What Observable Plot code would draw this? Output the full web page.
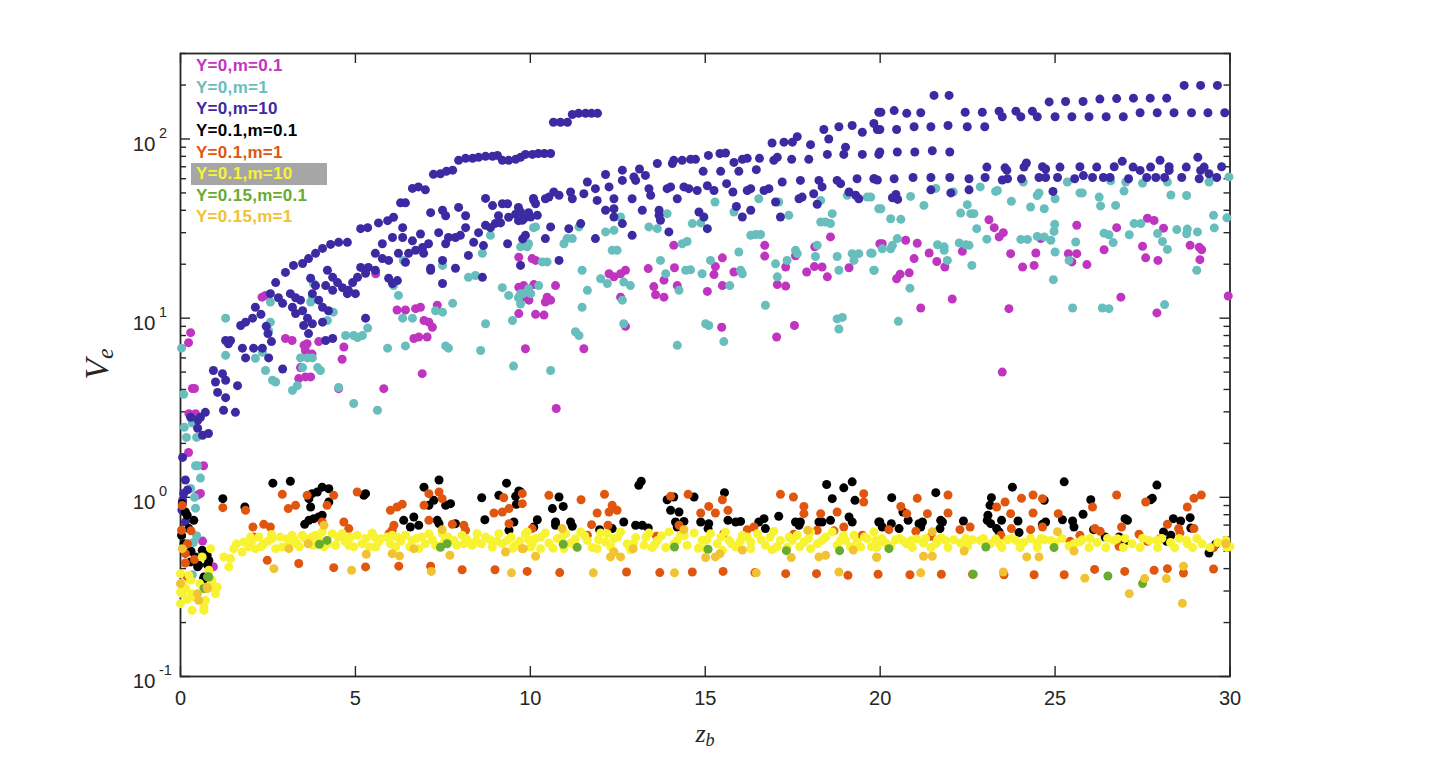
<!DOCTYPE html>
<html><head><meta charset="utf-8">
<script src="https://cdn.jsdelivr.net/npm/d3@7"></script>
<script src="https://cdn.jsdelivr.net/npm/@observablehq/plot@0.6"></script>
<style>
html,body{margin:0;padding:0;background:#fff;}
#wrap{position:relative;width:1440px;height:769px;overflow:hidden;background:#fff;font-family:"Liberation Sans",Arial,Helvetica,sans-serif;}
#wrap svg{position:absolute;left:0;top:0;}
#legend{position:absolute;left:190.7px;top:55.2px;font-weight:bold;font-size:17px;letter-spacing:0.3px;line-height:21.6px;}
#legend div{padding-left:5.3px;width:131.3px;height:21.6px;white-space:nowrap;}
</style></head>
<body><div id="wrap">
<div id="legend"></div>
</div>
<script>
const seriesNames = ["Y=0,m=0.1","Y=0,m=1","Y=0,m=10","Y=0.1,m=0.1","Y=0.1,m=1","Y=0.1,m=10","Y=0.15,m=0.1","Y=0.15,m=1"];
const seriesColors = ["#bf35bf","#68bdbd","#3c2aa3","#000000","#e1560f","#f8f332","#67ab30","#f1c232"];
const highlighted = "Y=0.1,m=10";

const xTicks = [0,5,10,15,20,25,30];
const yMajor = [0.1,1,10,100];
const yExp = ["-1","0","1","2"];
const yMinor = [0.2,0.3,0.4,0.5,0.6,0.7,0.8,0.9,2,3,4,5,6,7,8,9,20,30,40,50,60,70,80,90,200,300];
const xLabel = ["z","b"];
const yLabel = ["V","e"];

const magenta = [
[0.29,8.3],[0.23,7.3],[0.34,4.05],[0.4,4.05],[0.23,1.78],[0.49,1.03],[0.66,1.5],[0.57,1.05],[0.63,0.57],[0.94,0.41],[0.24,2.93],[0.43,2.93],
[2.33,13.1],[2.43,13.4],[3.0,7.7],[3.19,7.5],[3.53,7.05],[3.62,7.2],[3.95,7.4],[3.57,6.6],[3.76,6.3],[3.43,5.3],[3.38,4.6],[3.57,4.7],[3.72,4.7],[4.62,5.9],[4.67,6.9],[4.52,4.04],[5.81,4.04],[6.19,11.1],[6.43,11.1],[6.72,11.3],[6.86,11.5],[6.96,9.7],[7.1,9.5],[7.2,8.9],[7.05,7.85],[6.67,7.7],[6.81,7.85],[6.91,4.9],[7.34,11.8],[9.67,14.9],[9.81,15.2],[9.86,6.75],[9.67,10.6],[10.05,21.5],[10.15,21],[9.67,21.9],[5.58,17.7],[9.8,13.1],[9.96,12.6],
[10.1,15.4],[10.15,10.5],[10.39,10.4],[10.48,13.1],[10.43,12.3],[10.58,12.6],[10.72,15.2],[10.74,3.13],[11.53,6.75],[12.25,17.7],[12.39,17],[12.58,17.7],[12.72,18.5],[12.58,13.1],[12.72,9.0],[13.37,18.9],[13.53,15],[13.58,13.5],[13.82,16.3],[13.82,13.1],[14.1,25.5],[14.12,19.1],[14.2,15.2],[15.06,14.1],[15.29,19.4],[15.25,17.5],[15.49,21.7],[15.49,15.2],[15.47,8.9],[15.82,18.1],[16.7,25.5],[16.7,22.2],[17.04,7.85],[17.3,19.3],[17.06,15.4],[17.3,15.1],[17.55,9.1],[17.58,22.3],[17.9,18.1],[18.13,25],[18.12,19.4],[18.34,19.3],[18.49,17],[18.58,28.4],[19.11,19.1],[19.99,26],
[20.06,26],[20.73,27.2],[21.06,26.2],[20.47,16.6],[20.57,17.6],[20.83,17.9],[20.97,21.5],[21.16,11.4],[21.4,23.1],[21.62,20.7],[21.85,19.3],[22.06,12.8],[22.35,23.6],[23.11,35.4],[23.26,32],[23.4,28.4],[23.52,30],[23.73,22.9],[23.68,11.3],[23.49,5.0],[24.07,19.3],[24.4,19.7],[24.45,23.1],[24.59,27.8],[25.38,22.9],[25.48,20.6],[25.62,22.9],[25.62,33],[25.91,19.9],[26.4,24.1],[26.76,32],[26.88,13.1],[27.5,25.2],[27.59,21.7],[27.64,36.1],[27.83,35.1],[27.94,21],[28.1,31.8],[27.91,10.7],[28.86,25.5],[29.12,24.9],[29.19,24.1],[29.14,21.2],[29.95,13.3]
];

const teal = [
[0.03,6.8],[0.09,3.76],[0.11,2.46],[0.17,2.16],[0.46,2.16],[0.43,1.5],[0.34,2.6],[0.29,1.12],[0.43,0.87],[0.4,1.0],[0.49,1.5],[0.57,1.28],[0.46,0.61],[0.37,0.56],[0.34,0.37],
[1.29,10],[1.29,6.2],[2.14,5.97],[2.34,6.45],[2.43,5.1],[2.63,4.5],[2.72,4.4],[3.2,3.95],[3.34,4.2],[2.57,9.5],[2.57,12.3],[2.52,8.5],[3.43,6.0],[3.63,6.0],[3.77,6.0],[3.49,5.3],[3.92,5.3],[4.0,5.1],[3.72,12.3],[3.8,15.6],[3.77,13],[4.2,9.7],[4.37,10.8],[4.52,4.1],[4.72,8.0],[4.95,8.0],[5.06,7.8],[5.2,8.0],[5.35,8.8],[4.95,3.34],[5.63,3.06],[5.92,6.8],[6.43,7.0],[6.63,10],[6.35,10],[6.23,13.4],[6.09,15.2],[6.37,21],[7.29,11.0],[7.49,10.8],[7.78,12.1],[7.58,7.0],[7.66,6.8],[7.49,19.7],[8.23,16.9],[8.43,17.3],[8.58,6.6],[8.72,9.3],[9.52,5.4],[9.49,9.7],[9.2,14.8],[9.38,13.4],[9.66,13],[9.8,13.7],[9.95,14.6],[9.78,25.4],[9.95,26],[8.63,23],[8.86,29],[10.09,32],
[10.15,32.3],[10.96,26],[11.05,27.8],[11.2,27.8],[11.39,32.3],[9.91,25],[9.72,25],[10.34,20.6],[10.48,20.6],[9.72,13.7],[10.01,13.7],[10.24,15.2],[9.72,12],[11.48,18.5],[11.63,14.3],[11.48,11.5],[11.29,8.4],[11.39,8.0],[10.58,5.1],[12.01,16.6],[12.2,15.6],[12.15,30.3],[12.39,30.9],[12.34,23.9],[12.48,23.9],[12.58,36.7],[12.67,15.9],[12.86,15.2],[12.63,12.6],[12.67,9.3],[13.39,32.3],[13.63,31.6],[13.72,21],[13.87,17.7],[13.91,38.3],[14.25,14.3],[14.2,7.05],[14.34,26],[14.48,26.8],[14.44,18.5],[14.58,18.6],[14.63,33.7],[14.87,34],[14.91,17.7],[15.01,9.3],[15.1,9.1],[15.15,21],[15.28,44.5],[15.53,7.4],[15.7,15.2],[15.82,39.1],[15.96,23.4],[16.01,18.5],[16.06,17.7],[16.3,29],[16.44,29.3],[16.58,29.3],[16.53,46.4],[16.72,11.8],[17.01,20.1],[17.06,17],[17.1,44.5],[17.34,21],[17.39,37.5],[17.58,23.9],[17.63,22.9],[18.3,34.4],[18.44,34.4],[18.58,33.7],[18.63,38.3],[18.15,22.1],[18.2,25.5],[18.3,45.4],[18.77,22.1],[18.82,18.5],[18.77,9.9],[18.92,10.1],[18.82,8.7],[19.2,22.9],[19.25,21],[19.39,22.9],[19.63,47.4],[19.77,23],[19.82,18.5],[19.06,48.5],[19.96,40.8],
[19.73,47.4],[20.02,40.8],[20.3,35.9],[20.59,35.6],[20.87,47.8],[21.25,42.6],[19.73,23.1],[19.83,18.5],[20.06,24.4],[20.3,24.4],[20.35,25.5],[20.49,27.8],[20.85,14.7],[20.52,9.6],[21.59,53],[21.64,25.7],[21.83,25],[21.83,23.9],[21.92,21],[22.09,50.6],[22.3,38.6],[22.49,43],[22.59,38.3],[22.68,38.3],[22.26,26.3],[22.45,25.7],[22.54,25.5],[22.62,19.7],[22.76,31.6],[22.86,54],[23.05,27.6],[23.3,51],[23.35,51.6],[23.75,44.9],[24.02,27.5],[24.21,27.5],[24.3,41.7],[24.09,57.5],[24.49,48.4],[24.54,50],[24.69,40.8],[24.49,28.6],[24.69,28.4],[24.88,27.2],[24.97,30.5],[24.99,33.4],[25.0,23.4],[24.95,16.4],[25.0,46.4],[25.35,57.5],[25.4,21],[25.5,11.4],[25.59,26.6],[25.71,50],[25.78,50],[26.26,47.4],[26.3,42.3],[26.35,11.4],[26.4,29.8],[26.54,29.2],[26.54,11.3],[26.66,26.4],[26.73,42.6],[26.97,51.2],[27.02,57.5],[27.12,29.2],[27.26,33.7],[27.45,33.7],[27.5,56.7],[27.93,29.7],[28.07,26.8],[28.21,24.2],[28.13,11.9],[28.21,57.5],[28.31,48.7],[28.48,31.2],[28.76,48.4],[28.76,29.6],[28.78,31.4],[29.05,18.5],[29.07,30.3],[29.4,57.5],[29.53,37.5],[29.55,31.9],[29.91,36.3],[29.97,61.4],[26.59,58.5]
];

const blue = [
[0.06,1.67],[0.14,1.25],[0.09,1.05],[0.06,0.96],[0.14,0.73],[0.29,2.8],[0.5,2.7],[0.2,1.1],[0.04,0.85],
[0.49,2.43],[0.57,2.8],[0.63,2.22],[0.71,2.98],[0.8,2.27],
[0.94,5.1],[1.0,4.4],[1.06,3.85],[1.2,4.9],[1.29,4.5],[1.29,3.6],[1.63,4.2],[1.23,3.06],[1.57,2.98],
[1.29,7.5],[1.37,7.2],[1.43,7.5],
[1.72,9.1],[1.86,9.5],[2.06,10],[1.77,6.8],[1.86,6.0],[2.09,6.8],[2.34,6.8],[2.52,6.0],
[2.14,11.5],[2.3,10.5],[2.45,9.0],[2.6,7.4],[2.5,8.2],
[2.57,13.7],[2.8,13.0],[2.92,12.1],[2.92,5.2],
[2.72,15.8],[3.0,18],[3.23,19.7],[3.49,20.2],[3.66,21.5],[3.86,23],[4.06,24.5],[4.29,25.8],[4.52,26.5],[4.77,26.5],
[3.2,11.5],[3.29,10.6],[3.49,11.0],[3.63,10.0],[3.77,9.3],[3.52,9.1],
[3.14,13.7],[3.29,13.0],[3.43,12.6],
[3.72,16.7],[3.86,15.2],[3.77,13.7],[3.95,12.6],[4.06,11.5],
[4.2,18.5],[4.35,16.9],[4.49,15.8],[4.63,14.8],[4.77,13.7],[4.35,14.3],[4.15,15.2],
[4.92,15.8],[5.06,16.9],[5.15,19.2],[5.29,17.8],[5.0,13.7],[4.8,14.3],
[4.23,11.0],[4.35,7.7],[4.15,7.5],[3.66,8.2],[4.06,9.5],[5.29,10.0],
[5.57,18.5],[5.95,16.7],[6.2,16.2],[6.06,15.6],[5.37,19.2],
[5.57,23],[5.77,21.5],[5.95,21],[6.23,23],[6.43,20.5],[6.52,23],[6.72,23.9],[6.95,23],[7.15,19.0],
[5.77,26],[6.06,28.2],[6.35,32],[6.35,28.2],[6.63,27],[6.92,24.8],[7.09,26],
[5.15,31.6],[5.35,32],[5.66,34],[5.92,35],[6.09,36.6],[6.29,44],[6.43,44],
[6.63,53],[6.8,54],[7.0,52],[7.23,63.5],[7.43,64],[7.6,66],[7.78,67],
[6.86,29.5],[7.15,38.8],[7.49,40],[7.58,37.3],[7.95,41.5],
[8.15,37.3],[8.72,46.6],[8.92,42.5],[9.2,43.5],[9.35,43.5],[9.09,37.3],[9.38,36.6],[9.66,41.5],[9.95,38.8],[10.09,46.6],
[7.38,30],[7.66,28.2],[8.0,29],[8.15,32],[8.52,30],[8.72,33],[8.86,32],[9.0,33.8],[9.15,34],
[7.58,26],[7.86,28.2],[8.23,22.4],[8.38,26.5],[8.66,25.4],[9.35,26],[9.78,27.7],
[7.49,15.6],[7.15,18.5],[7.86,19],[8.63,16.9],[7.49,21],
[9.66,35],[9.58,38],
[7.95,76],[8.15,78],[8.35,78],[8.52,79],[8.72,80],[8.92,80],[9.06,81],[9.2,76],[9.38,76],[9.58,77],
[9.72,79],[9.86,82],[10.06,82],[10.23,83],[10.4,83],[10.58,83],
[10.66,124],[10.86,124],[11.06,124],
[11.2,137],[11.38,139],[11.58,139],[11.75,139],[11.92,139],
[9.72,39.1],[9.82,36],[10.1,45.4],[10.15,43.5],[10.43,46.4],[10.53,47.4],[10.67,50.6],[10.82,48.5],[11.15,50.6],[11.2,46.4],[11.53,49.5],[11.63,57.5],[11.86,52.8],[11.91,45.4],[12.15,63.4],[12.25,54],[12.39,46.4],[12.63,67],[12.63,58.7],[12.91,46.4],[12.96,61.4],[13.01,58.7],[13.12,68],[13.29,62.6],[13.39,52.8],[13.44,48.5],[13.63,73],[13.91,52.8],[14.01,54],[14.06,73],[14.1,76],[14.34,76],[14.39,54],[14.53,52.8],[14.58,77],[14.72,77],[14.77,51.6],[14.94,66],[15.06,54.8],[15.09,81],[15.25,51.6],[15.42,83],[15.44,66],[15.58,83.5],[15.61,56.3],[15.79,50.6],[15.82,74],[15.96,66],[16.06,77],[16.2,78],[16.2,51.6],[16.3,52.8],[16.46,67.4],[16.55,78],[16.68,51.6],[16.82,52.8],[16.96,76],[17.06,79],[16.91,95],[17.2,57.5],[17.25,96],[17.49,96],[17.47,77],[17.63,103],[17.72,58.7],[17.96,77],[18.01,93],[18.25,58.7],[18.34,54],[18.39,113],[18.49,82],[18.53,100],[18.82,117],[18.77,58.7],[18.87,56.3],[18.96,82],[19.01,90],[19.2,119],[19.11,50.6],[19.3,48.5],[19.34,60],[19.39,46.4],[19.49,109],[19.49,82],[19.82,122],[19.82,60],[19.92,113],[19.96,141],[19.96,82],
[9.86,29],[10.43,27.8],[10.82,21],[9.72,19.7],[10.58,32.3],[11.1,31.6],[11.44,33.7],[11.86,27.8],[12.15,40],[12.39,40.8],[12.39,36.7],[12.63,33.7],[12.91,29],[13.2,40],[13.68,40],[13.72,35.2],[13.68,37.5],[13.96,30.3],[14.2,46.4],[14.82,39.1],[14.96,36.7],[15.06,31.6],[15.89,42],[16.06,36.7],[16.3,40],[17.01,44.5],[17.15,36.7],[17.68,46.4],[17.77,47.4],[18.1,49.5],[18.2,43.2],[9.77,35.2],[10.01,36.7],[10.2,37.5],
[28.69,199],[29.16,199],[29.64,199],
[24.83,161],[25.3,162],[25.8,162],[26.28,167],[26.76,168],[27.24,169],[27.72,169],[28.19,169],
[21.54,175],[21.97,175],
[20.02,141],[20.4,144],[20.76,139],[21.16,140],[22.43,141],[22.92,141],[23.4,143],[23.88,143],[24.35,143],
[23.49,133],[24.02,133],[24.49,133],[25.0,133],[25.48,133],[25.97,133],[26.46,133],[26.95,133],
[27.43,140],[27.92,140],[28.4,140],[28.9,140],[29.37,140],[29.85,140],
[19.99,113],[20.47,113],[20.97,117],[21.45,117],[21.94,119],[22.49,117],[22.99,117],
[19.99,84.6],[20.49,84.6],[20.99,84.6],[21.49,86],[21.99,84.6],
[23.05,69.7],[23.57,69],[24.11,69.7],[24.64,70],[25.14,69.7],[25.71,70],[26.19,69.7],[26.69,70],[27.23,69.7],[27.73,69.7],[28.26,70],[28.75,69.7],[29.26,69.7],[29.76,70],
[24.18,73.5],[23.62,67],[24.73,68],[26.92,75],[27.43,66.8],[28.0,76],[28.26,66.8],[29.08,79],[29.16,66.8],[29.4,64],
[19.83,60],[19.92,59],[20.4,60],[20.94,61],[21.45,61],[21.99,61],[22.54,60],[23.0,61],[23.49,59],[23.64,60],[24.04,60],[24.54,61],[24.73,61],[25.07,61],[25.56,60],[25.81,62.5],[26.07,61],[26.38,61],[26.57,61],[27.1,60],[27.62,61],[27.88,61],[28.13,61],[28.62,61],[29.12,60],[29.62,61],
[20.35,47],[20.45,49],[21.45,52],[22.02,50],[22.54,52],[24.94,51],[20.5,46]
];

const black = [
[0.05,0.922],[0.14,0.828],[0.19,0.794],[0.38,0.744],[0.24,0.669],[0.03,0.614],[0.62,0.506],[0.76,0.475],[0.81,0.445],[0.29,0.436],[0.52,0.418],[0.43,0.465],[0.67,0.359],[0.49,0.41],[0.77,0.42],[0.66,0.35],[0.3,0.5],[0.1,0.55],
[2.64,1.20],[3.14,1.23],[1.21,0.983],[1.84,0.883],[3.55,0.707],[3.67,0.744],[3.81,0.76],[3.95,0.777],[4.05,0.794],[3.67,0.983],[3.76,1.048],[3.91,1.071],[4.05,1.14],[4.24,1.117],[4.24,0.942],[3.72,0.883],[6.96,1.14],[7.39,1.25],[7.24,0.962],[7.1,0.902],[7.58,0.902],[7.72,0.922],[6.38,0.744],[6.57,0.683],[6.67,0.777],[6.81,0.698],[7.34,0.744],[7.39,0.713],[7.86,0.713],[8.61,0.995],[8.7,0.75],[9.1,1.026],[9.32,1.20],[9.67,1.085],[9.6,0.914],[9.53,0.728],[9.39,0.655],[9.58,1.013],[5.24,1.026],[5.29,1.048],[10.1,0.683],
[9.72,1.071],[10.2,0.75],[10.63,0.865],[10.82,1.004],[10.94,0.89],[10.72,0.728],[10.72,0.698],[11.15,0.728],[11.2,0.69],[11.98,0.66],[12.34,0.669],[12.67,0.728],[13.01,0.698],[13.2,0.698],[13.37,0.674],[13.1,1.167],[13.17,1.23],[13.91,0.97],[14.1,1.004],[14.68,1.004],[14.01,0.846],[14.25,0.828],[14.15,0.728],[14.2,0.683],[14.39,0.734],[14.87,0.728],[15.1,0.713],[15.08,0.669],[15.55,1.062],[15.65,0.744],[15.87,0.728],[16.01,0.734],[16.53,0.728],[16.68,0.76],[16.72,0.669],[17.1,0.784],[17.58,0.728],[17.68,0.698],[17.72,0.728],[18.25,0.728],[18.34,0.728],[18.58,0.744],[18.47,1.18],[18.63,0.983],[18.96,1.13],[19.2,1.22],[19.28,0.962],[19.11,0.777],[19.2,0.728],[19.96,0.728],
[19.99,0.728],[20.06,0.683],[20.32,0.713],[20.54,0.669],[20.33,0.996],[20.65,0.828],[20.8,0.744],[21.11,0.713],[21.21,0.728],[21.16,0.683],[21.59,1.062],[21.73,0.744],[21.78,0.728],[21.71,0.669],[22.38,0.738],[23.18,0.996],[23.14,0.902],[23.08,0.794],[23.06,0.744],[23.16,0.713],[23.33,0.669],[23.47,0.744],[23.4,0.641],[23.78,1.14],[23.94,0.738],[23.97,0.636],[24.69,0.962],[24.73,0.728],[24.64,0.707],[25.21,0.75],[25.26,1.22],[25.5,0.738],[25.54,0.683],[25.8,0.804],[26.02,0.97],[26.1,0.66],[26.43,0.601],[26.83,0.601],[27.0,0.76],[27.07,0.744],[26.99,0.568],[27.73,0.97],[27.78,0.987],[27.91,1.17],[28.1,0.641],[28.19,0.568],[28.31,0.614],[28.38,0.76],[28.59,0.738],[28.86,0.77],[28.88,0.674],[29.4,0.489],[29.59,0.547]
];

const orange = [
[0.03,0.655],[0.14,0.485],[0.19,0.359],[0.14,0.43],[0.05,0.9],[0.3,0.65],[0.4,0.45],[0.2,0.55],
[1.21,0.876],[1.86,0.846],[2.91,1.039],[3.08,0.865],[3.29,0.902],[3.62,1.026],[4.38,1.026],[4.19,0.902],[5.05,1.071],[2.07,0.683],[2.1,0.601],[2.38,0.707],[2.57,0.683],[2.48,0.445],[3.38,0.427],[4.05,0.728],[4.67,0.728],[4.81,0.669],[6.0,0.846],[6.19,0.883],[6.34,0.914],[6.1,0.698],[6.05,0.655],[5.96,0.627],[7.1,1.048],[7.39,1.071],[7.48,0.983],[6.96,0.902],[7.1,0.744],[7.77,0.707],[8.1,0.698],[8.15,0.655],[8.96,0.818],[9.2,0.828],[9.39,0.865],[9.24,0.995],[9.77,1.048],[9.39,0.713],[10.05,0.669],[4.38,0.405],[5.29,0.409],[6.24,0.413],[7.15,0.413],[8.05,0.394],[8.99,0.394],[9.91,0.386],
[9.77,0.922],[10.53,1.026],[11.45,0.97],[12.12,1.039],[11.91,0.818],[12.25,0.828],[12.34,0.902],[12.48,0.846],[11.75,0.704],[11.63,0.614],[12.22,0.698],[14.01,1.013],[14.51,1.039],[14.87,0.818],[15.1,0.89],[15.29,0.818],[15.49,0.97],[15.65,0.846],[15.53,0.627],[16.2,0.66],[16.39,0.683],[17.15,1.039],[17.52,1.004],[17.82,0.89],[17.82,0.811],[18.3,0.811],[18.2,0.655],[18.77,0.828],[18.68,0.65],[18.96,0.683],[19.53,1.048],[19.53,0.942],[19.49,0.614],[10.84,0.38],[12.75,0.383],[13.7,0.38],[14.63,0.383],[15.51,0.386],[16.42,0.38],[17.3,0.375],[18.18,0.375],[19.08,0.367],[19.94,0.372],[13.61,0.606],[14.25,0.698],[17.53,0.622],
[20.25,0.66],[20.59,0.89],[20.76,0.811],[21.02,0.646],[21.06,0.987],[21.35,0.811],[21.46,0.606],[21.94,1.03],[21.94,0.818],[22.28,0.66],[22.57,0.683],[23.33,0.883],[23.45,0.614],[23.57,0.942],[23.73,0.811],[23.75,0.669],[24.04,0.987],[24.3,0.66],[24.37,1.03],[24.37,0.818],[24.64,0.983],[24.64,0.683],[25.09,0.811],[25.43,0.568],[25.71,0.614],[26.07,0.883],[26.14,0.669],[26.29,0.646],[26.76,1.03],[26.9,0.683],[27.4,0.622],[27.59,0.942],[27.64,0.568],[28.0,0.588],[28.21,0.707],[28.53,0.669],[28.57,0.633],[28.78,0.883],[28.97,0.987],[29.18,1.03],[29.53,0.524],[20.85,0.37],[21.75,0.372],[22.64,0.372],[23.54,0.37],[24.4,0.37],[25.26,0.37],[26.13,0.396],[26.99,0.386],[27.83,0.392],[28.21,0.40],[28.67,0.378],[29.53,0.398],[26.83,0.533],[28.97,0.669]
];

const yellow = [
[0.0,0.375],[0.05,0.33],[0.05,0.29],[0.0,0.255],[0.29,0.344],[0.33,0.29],[0.33,0.234],[0.67,0.244],[0.71,0.266],[0.9,0.344],[1.0,0.29],[1.05,0.316],[0.24,0.367],[0.62,0.465],[0.86,0.517],[0.81,0.392],[0.38,0.278],[0.67,0.234],[0.0,0.296],[0.9,0.316],[0.15,0.31],[0.55,0.33],[0.2,0.27],
[1.24,0.465],[1.38,0.409],[1.43,0.455],[1.52,0.517],[1.76,0.495],[1.81,0.563],[2.05,0.575],[2.24,0.601],[2.14,0.517],[2.38,0.551],[2.62,0.588],[2.72,0.517],[2.91,0.528],[3.05,0.588],[3.19,0.614],[3.33,0.551],[3.48,0.614],[3.67,0.563],[3.86,0.614],[4.05,0.641],[4.34,0.627],[4.43,0.54],[4.62,0.627],[4.81,0.54],[5.05,0.614],[5.19,0.551],[5.48,0.633],[5.58,0.528],[5.72,0.588],[6.05,0.614],[6.15,0.528],[6.43,0.614],[6.62,0.575],[6.81,0.517],[7.1,0.627],[7.29,0.54],[7.48,0.627],[7.81,0.575],[8.05,0.614],[8.34,0.54],[8.48,0.627],[8.72,0.601],[8.91,0.528],[9.1,0.627],[9.34,0.575],[9.58,0.54],[9.86,0.627],[10.05,0.551],
[2.3,0.53],[2.5,0.57],[2.85,0.6],[3.1,0.55],[3.4,0.53],[3.55,0.59],[3.8,0.54],[3.95,0.58],[4.2,0.55],[4.5,0.6],[4.7,0.57],[4.95,0.53],[5.3,0.59],[5.4,0.53],[5.65,0.56],[5.9,0.6],[6.0,0.55],[6.3,0.57],[6.55,0.53],[6.9,0.6],[7.0,0.55],[7.2,0.58],[7.4,0.53],[7.65,0.6],[7.9,0.54],[8.2,0.58],[8.6,0.55],[8.85,0.58],[9.2,0.55],[9.45,0.6],[9.7,0.57],[9.95,0.58],
[1.6,0.55],[1.95,0.53],[2.0,0.6],[2.6,0.62],[3.25,0.58],[3.75,0.6],[4.1,0.53],[4.85,0.6],[5.55,0.6],[6.2,0.6],[6.75,0.59],[7.55,0.57],[8.1,0.55],[8.45,0.57],[9.05,0.57],[9.5,0.52],
[9.91,0.641],[10.15,0.588],[10.43,0.633],[10.53,0.556],[10.77,0.588],[11.01,0.627],[11.15,0.556],[11.44,0.641],[11.63,0.575],[11.77,0.524],[12.01,0.633],[12.15,0.563],[12.39,0.588],[12.58,0.641],[12.77,0.551],[13.01,0.596],[13.25,0.54],[13.39,0.633],[13.63,0.575],[13.87,0.524],[13.96,0.641],[14.2,0.575],[14.48,0.54],[14.68,0.633],[14.91,0.575],[15.15,0.627],[15.34,0.551],[15.58,0.641],[15.68,0.575],[15.87,0.528],[16.06,0.614],[16.3,0.563],[16.49,0.627],[16.72,0.54],[16.96,0.646],[17.15,0.575],[17.34,0.524],[17.63,0.614],[17.82,0.563],[18.01,0.641],[18.34,0.575],[18.63,0.641],[18.77,0.54],[19.01,0.575],[19.25,0.614],[19.44,0.528],[19.63,0.588],[19.82,0.641],[20.01,0.563],[10.01,0.528],[10.29,0.517],[10.96,0.517],[11.29,0.588],[11.91,0.517],[12.2,0.627],[12.86,0.51],[13.48,0.524],[14.29,0.614],[15.01,0.517],[15.49,0.506],[16.3,0.517],[16.91,0.51],[17.49,0.575],[18.01,0.517],[18.87,0.575],[19.34,0.563],
[10.3,0.6],[10.65,0.52],[10.9,0.6],[11.3,0.535],[11.55,0.61],[11.95,0.58],[12.3,0.53],[12.5,0.6],[12.95,0.55],[13.3,0.6],[13.55,0.545],[13.75,0.61],[14.1,0.55],[14.4,0.61],[14.8,0.52],[15.05,0.58],[15.45,0.6],[15.75,0.55],[16.0,0.57],[16.2,0.6],[16.6,0.58],[16.85,0.6],[17.05,0.53],[17.4,0.6],[17.7,0.53],[17.95,0.59],[18.2,0.55],[18.45,0.6],[18.95,0.61],[19.15,0.53],[19.55,0.6],[19.75,0.53],
[19.87,0.575],[19.9,0.524],[20.16,0.556],[20.44,0.58],[20.64,0.575],[20.89,0.575],[20.92,0.524],[21.24,0.556],[21.45,0.524],[21.64,0.58],[21.87,0.575],[21.94,0.524],[22.3,0.556],[22.64,0.58],[22.86,0.575],[23.4,0.556],[23.48,0.524],[23.64,0.58],[23.88,0.575],[24.0,0.524],[24.48,0.556],[24.49,0.524],[24.69,0.58],[24.88,0.575],[25.54,0.551],[25.78,0.58],[25.97,0.524],[26.45,0.524],[26.69,0.575],[26.95,0.524],[27.43,0.524],[27.69,0.575],[27.93,0.524],[27.91,0.575],[28.42,0.524],[28.76,0.575],[28.93,0.524],[29.43,0.524],[29.88,0.575],[29.91,0.524],[28.78,0.551],[26.78,0.588],[25.69,0.563],
[20.05,0.59],[20.3,0.535],[20.55,0.59],[20.75,0.55],[21.05,0.585],[21.3,0.59],[21.6,0.55],[21.75,0.595],[22.1,0.58],[22.45,0.59],[22.5,0.535],[22.95,0.59],[23.15,0.55],[23.3,0.585],[23.75,0.59],[24.1,0.56],[24.3,0.59],[24.6,0.59],[25.0,0.56],[25.2,0.59],[25.4,0.535],[26.0,0.59],[26.2,0.56],[26.5,0.59],[27.0,0.59],[27.2,0.55],[27.5,0.59],[28.05,0.59],[28.3,0.56],[28.55,0.59],[29.05,0.59],[29.2,0.55],[29.65,0.56],[30.0,0.53]
];

const green = [
[0.81,0.359],[0.67,0.31],[0.77,0.36],[3.97,0.547],[4.19,0.575],[7.43,0.526],[7.62,0.551],[10.94,0.547],[11.34,0.526],[14.12,0.528],[15.08,0.513],[17.32,0.504],[18.84,0.504],[20.25,0.517],[23.02,0.528],[24.97,0.524],[22.66,0.372],[26.51,0.364],[27.5,0.33]
];

const gold = [
[2.67,0.40],[4.89,0.392],[7.17,0.386],[9.46,0.379],[3.1,0.517],[3.65,0.551],[4.1,0.698],[5.31,0.481],[6.05,0.485],[6.26,0.471],[6.67,0.517],[7.48,0.66],[7.7,0.475],[9.29,0.495],[9.77,0.517],[0.05,0.517],[0.52,0.266],[0.76,0.316],[0.0,0.33],[0.49,0.29],[0.77,0.31],
[10.91,0.669],[10.15,0.469],[9.8,0.517],[11.8,0.379],[12.29,0.465],[12.58,0.465],[12.39,0.495],[12.94,0.517],[14.12,0.379],[14.39,0.66],[15.01,0.461],[15.29,0.465],[15.42,0.485],[16.06,0.508],[16.46,0.379],[17.46,0.461],[17.93,0.655],[18.25,0.465],[18.44,0.475],[18.82,0.383],[19.23,0.508],[19.9,0.465],
[19.9,0.461],[21.49,0.643],[21.24,0.469],[21.49,0.469],[22.4,0.502],[21.16,0.379],[23.52,0.383],[24.19,0.465],[24.54,0.465],[25.07,0.643],[25.54,0.502],[25.85,0.354],[27.12,0.29],[27.56,0.352],[28.18,0.352],[28.67,0.413],[28.64,0.256],[29.88,0.551]
];

const seriesPoints = [magenta, teal, blue, black, orange, yellow, green, gold];

// ---- build ----
const W = 1440, H = 769, mL = 180, mR = 210.5, mT = 53, mB = 93;
const pw = W - mL - mR, ph = H - mT - mB;
const ink = "#262626";
const points = [];
seriesPoints.forEach((pts, i) => pts.forEach(p => points.push({x: p[0], y: p[1], series: seriesNames[i]})));

const svg = Plot.plot({
  width: W, height: H,
  marginLeft: mL, marginRight: mR, marginTop: mT, marginBottom: mB,
  style: {background: "transparent", fontFamily: "'Liberation Sans', Arial, Helvetica, sans-serif", color: ink, overflow: "visible"},
  x: {domain: [0, 30], axis: null},
  y: {type: "log", domain: [0.1, 300], axis: null},
  color: {domain: seriesNames, range: seriesColors},
  marks: [
    Plot.frame({stroke: ink, strokeWidth: 1.8}),
    Plot.tickX(xTicks, {x: d => d, insetTop: ph - 10, stroke: ink, strokeWidth: 1.4}),
    Plot.tickX(xTicks, {x: d => d, insetBottom: ph - 10, stroke: ink, strokeWidth: 1.4}),
    Plot.tickY(yMajor, {y: d => d, insetRight: pw - 10, stroke: ink, strokeWidth: 1.4}),
    Plot.tickY(yMajor, {y: d => d, insetLeft: pw - 10, stroke: ink, strokeWidth: 1.4}),
    Plot.tickY(yMinor, {y: d => d, insetRight: pw - 6, stroke: ink, strokeWidth: 1.4}),
    Plot.tickY(yMinor, {y: d => d, insetLeft: pw - 6, stroke: ink, strokeWidth: 1.4}),
    Plot.dot(points, {x: "x", y: "y", r: 4.5, fill: "series", stroke: "none"}),
    Plot.text(xTicks, {x: d => d, text: d => String(d), frameAnchor: "bottom", dy: 22, fontSize: 20, fill: ink, lineAnchor: "middle"}),
    Plot.text(yMajor, {y: d => d, text: () => "10", frameAnchor: "left", textAnchor: "end", dx: -25, dy: 5, fontSize: 20.5, fill: ink, lineAnchor: "middle"}),
    Plot.text(yMajor, {y: d => d, text: (d, i) => yExp[i], frameAnchor: "left", textAnchor: "start", dx: -21.5, dy: -6, fontSize: 14.5, fill: ink, lineAnchor: "middle"})
  ]
});
const wrap = document.getElementById("wrap");
wrap.insertBefore(svg, wrap.firstChild);

// axis labels (LaTeX-like italic with subscript)
const sel = d3.select(svg);
function mathLabel(g, parts, size) {
  const t = g.append("text")
    .attr("text-anchor", "middle")
    .attr("fill", ink)
    .style("font-family", "'Liberation Serif','Times New Roman',serif")
    .style("font-style", "italic")
    .style("font-size", size + "px");
  t.append("tspan").text(parts[0]);
  t.append("tspan").attr("dy", "0.22em").style("font-size", (size * 0.7) + "px").text(parts[1]);
}
mathLabel(sel.append("g").attr("transform", "translate(705,742)"), xLabel, 26);
mathLabel(sel.append("g").attr("transform", "translate(108,364) rotate(-90)"), yLabel, 34);

const legend = document.getElementById("legend");
seriesNames.forEach((n, i) => {
  const d = document.createElement("div");
  d.textContent = n;
  d.style.color = seriesColors[i];
  if (n === highlighted) d.style.background = "#a6a6a6";
  legend.appendChild(d);
});
</script>
</body></html>
